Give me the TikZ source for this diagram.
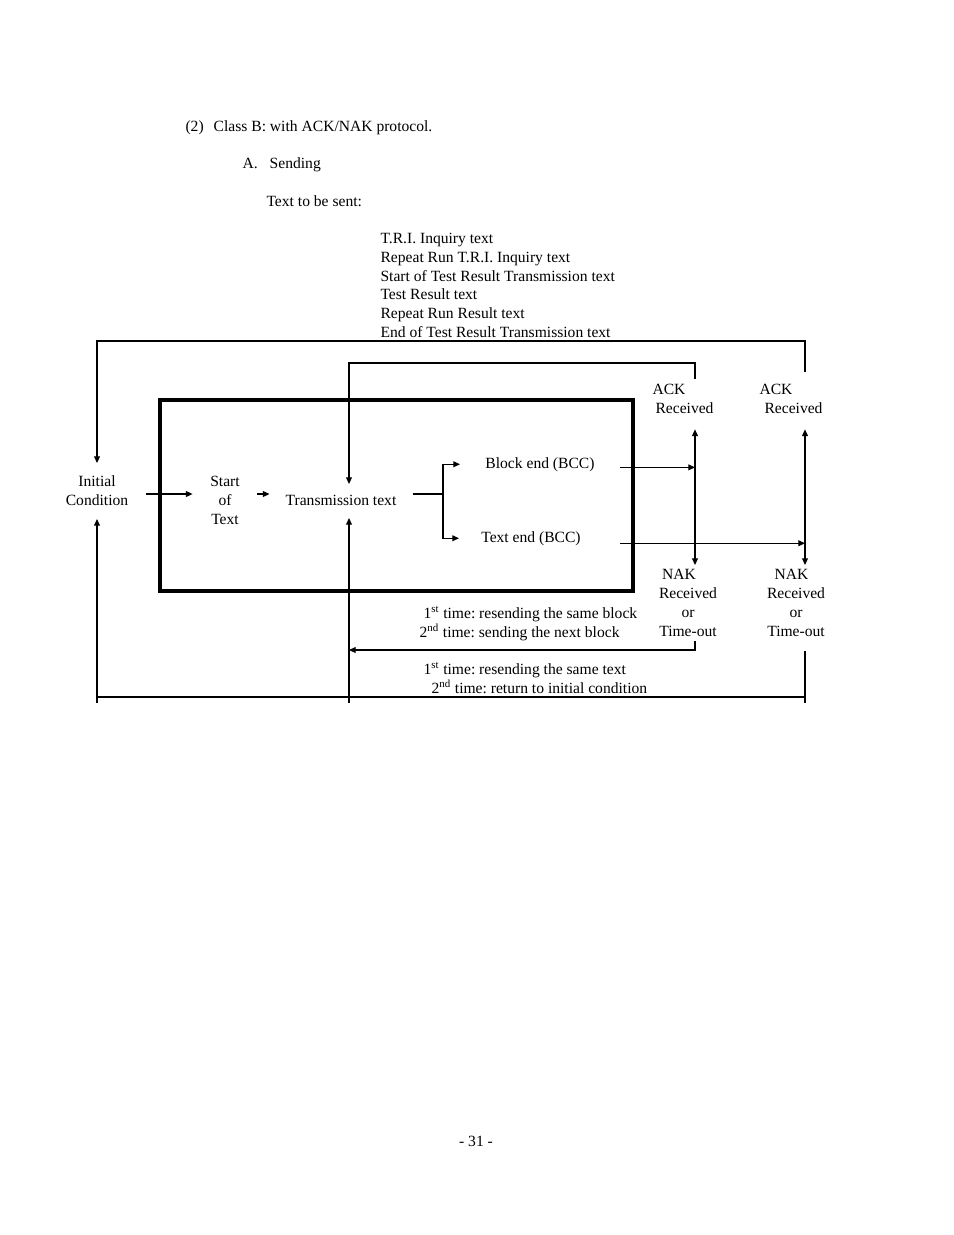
\documentclass[tikz,border=0pt]{standalone}
\usepackage{fontspec}
\setmainfont{Liberation Serif}
\usetikzlibrary{arrows.meta}
\frenchspacing

\begin{document}
\begin{tikzpicture}[x=0.6415pt, y=-0.6415pt, line width=0.7pt,
	>={Triangle[length=4.3pt,width=3.8pt]},
	font=\fontsize{10}{12.2}\selectfont,
	every node/.style={inner sep=0pt}]
	\useasboundingbox (0,0) rectangle (954,1235);

	\node[anchor=base west] (head) at (185,131.5) {(2)\hspace{6.4pt}Class B: with ACK/NAK protocol.};
	\node[anchor=base west] (send) at (242,168.5) {A.\hspace{7.7pt}Sending};
	\node[anchor=base west] (tobe) at (266,206.5) {Text to be sent:};

	\node[anchor=base west] (l1) at (380,243.5) {T.R.I. Inquiry text};
	\node[anchor=base west] (l2) at (380,262.3) {Repeat Run T.R.I. Inquiry text};
	\node[anchor=base west] (l3) at (380,281.1) {Start of Test Result Transmission text};
	\node[anchor=base west] (l4) at (380,299.9) {Test Result text};
	\node[anchor=base west] (l5) at (380,318.7) {Repeat Run Result text};
	\node[anchor=base west] (l6) at (380,337.5) {End of Test Result Transmission text};

	\draw[line width=2pt] (160,400) rectangle (633,591);

	\node[anchor=north, align=center, inner xsep=10.9pt, inner ysep=8pt] (init) at (97,463) {Initial\\Condition};
	\node[anchor=north, align=center, inner xsep=11pt] (start) at (225,476) {Start\\of\\Text};
	\node[anchor=base, inner xsep=10pt, inner ysep=6.5pt, text depth=1.5pt] (trans) at (341,505) {Transmission text};
	\node[anchor=base, inner xsep=16pt] (blockend) at (540,468) {Block end (BCC)};
	\node[anchor=base, inner xsep=14pt] (textend) at (531,542) {Text end (BCC)};

	\node[anchor=north west, align=left, inner ysep=10pt] (ack1) at (652,367.6) {ACK\\\hspace*{1.9pt}Received};
	\node[anchor=north west, align=left, inner ysep=10pt] (ack2) at (759,367.6) {ACK\\\hspace*{3.2pt}Received};
	\node[anchor=north, align=center, inner ysep=2.5pt] (nak1) at (688,565) {NAK\hspace*{11.5pt}\\Received\\or\\Time-out};
	\node[anchor=north, align=center, inner ysep=2.5pt] (nak2) at (796,565) {NAK\hspace*{5.8pt}\\Received\\or\\Time-out};

	\node[anchor=base west] (blk1) at (423,618) {1\textsuperscript{st} time: resending the same block};
	\node[anchor=base west] (blk2) at (419,637) {2\textsuperscript{nd} time: sending the next block};
	\node[anchor=base west] (txt1) at (423,674) {1\textsuperscript{st} time: resending the same text};
	\node[anchor=base west] (txt2) at (431,693) {2\textsuperscript{nd} time: return to initial condition};

	\node[anchor=base] (page) at (476,1146.5) {- 31 -};

	\coordinate (topL) at (97,341);
	\coordinate (topR) at (805,341);
	\coordinate (midL) at (349,363);
	\coordinate (midR) at (695,363);
	\coordinate (upA) at (695,379);
	\coordinate (upB) at (805,372);
	\coordinate (fork) at (443,494);
	\coordinate (retA) at (695,650);
	\coordinate (retT) at (349,650);
	\coordinate (dnB) at (805,651);
	\coordinate (botL) at (97,703);
	\coordinate (botT) at (349,703);
	\coordinate (botB) at (805,703);
	\coordinate (rowL) at (97,697);
	\coordinate (rowR) at (805,697);

	\draw[->] (upB) -- (topR) -- (topL) -- (init);
	\draw[->] (upA) -- (midR) -- (midL) -- (midL |- trans.north);

	\draw[->] (init.east |- fork) -- (start.west |- fork);
	\draw[->] (start.east |- fork) -- (trans.west |- fork);
	\draw (trans.east |- fork) -- (fork);
	\draw[->] (fork) |- (blockend.west);
	\draw[->] (fork) |- (textend.west);

	\draw[->] ([yshift=-2pt]blockend.east) -- ([yshift=-2pt]blockend.east -| upA);
	\draw[->] ([yshift=-3.2pt]textend.east -| blockend.east) -- ([yshift=-3.2pt]textend.east -| upB);

	\draw[<->] (ack1.south -| upA) -- (nak1.north -| upA);
	\draw[<->] (ack2.south -| upB) -- (nak2.north -| upB);

	\draw[->] (nak1.south -| upA) -- (retA) -- (retT);
	\draw (dnB) -- (botB);
	\draw (rowL) -- (rowR);
	\draw[->] (botL) -- (init);
	\draw[->] (botT) -- (botT |- trans.south);
\end{tikzpicture}
\end{document}
